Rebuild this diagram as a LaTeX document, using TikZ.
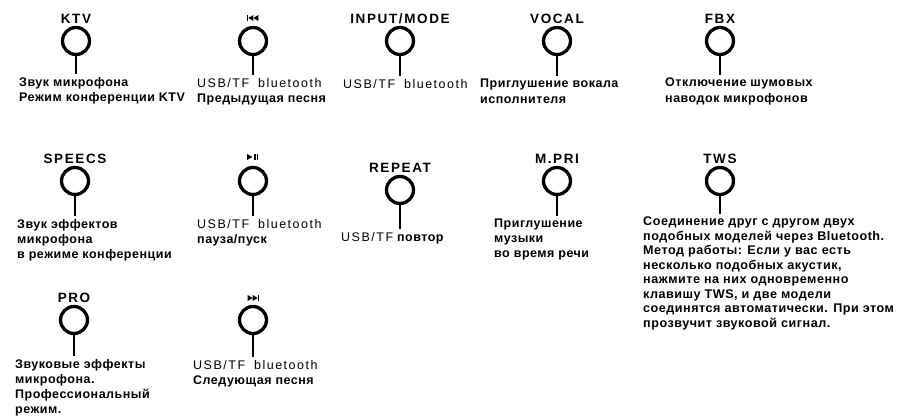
\documentclass[tikz,border=0pt]{standalone}
\usepackage{fontspec}
\setmainfont{Liberation Sans}
\newfontfamily\keyfont[LetterSpace=12]{Liberation Sans}
\newfontfamily\cyrfont[LetterSpace=4]{Liberation Sans}
\newfontfamily\usbfont[LetterSpace=12]{Liberation Sans}
\usetikzlibrary{positioning}

\newcommand\desctext{\cyrfont\bfseries\fontsize{12.5}{15.5}\selectfont}
\newcommand\usb[1]{{\usbfont\mdseries #1}}

\tikzset{
  knob/.style={draw, circle, line width=3.3pt, minimum size=27pt, inner sep=0pt},
  keyname/.style={inner sep=0pt, font=\keyfont\bfseries\fontsize{13.5}{13.5}\selectfont},
  descr/.style={anchor=north west, align=left, inner sep=0pt, font=\desctext},
  lead/.style={line width=1.1pt, shorten >=3pt},
  previcon/.pic={
    \fill (-6,-3) rectangle (-4.6,3);
    \fill (-4.6,0) -- (0.4,-3) -- (0.4,3) -- cycle;
    \fill (0.4,0) -- (5.4,-3) -- (5.4,3) -- cycle;
  },
  playicon/.pic={
    \fill (-6,-3) -- (-6,3) -- (-0.6,0) -- cycle;
    \fill (1.2,-3) rectangle (2.6,3);
    \fill (4,-3) rectangle (5.4,3);
  },
  nexticon/.pic={
    \fill (-5.4,-3) -- (-5.4,3) -- (-0.4,0) -- cycle;
    \fill (-0.4,-3) -- (-0.4,3) -- (4.6,0) -- cycle;
    \fill (4.6,-3) rectangle (6,3);
  },
}

\begin{document}
\begin{tikzpicture}[x=1pt, y=-1pt]
\useasboundingbox (0,0) rectangle (903,417);

% first row
\node[knob] (ktv) at (76,41) {};
\node[keyname, above=2pt of ktv] (ktvkey) {KTV};
\node[descr] (ktvtxt) at (19,77) {Звук микрофона\\Режим конференции KTV};

\node[knob] (prev) at (253,41) {};
\coordinate (prevkey) at (253,18);
\pic at (prevkey) {previcon};
\node[descr] (prevtxt) at (197,78) {\usb{USB/TF\hspace{4pt} bluetooth}\\Предыдущая песня};

\node[knob] (input) at (400,41) {};
\node[keyname, above=2pt of input] (inputkey) {INPUT/MODE};
\node[descr] (inputtxt) at (343,79) {\usb{USB/TF\hspace{4pt} bluetooth}};

\node[knob] (vocal) at (557,41) {};
\node[keyname, above=2pt of vocal] (vocalkey) {VOCAL};
\node[descr] (vocaltxt) at (480,79) {Приглушение вокала\\исполнителя};

\node[knob] (fbx) at (720,41) {};
\node[keyname, above=2pt of fbx] (fbxkey) {FBX};
\node[descr] (fbxtxt) at (665,78) {Отключение шумовых\\наводок микрофонов};

% second row
\node[knob] (speecs) at (75,181) {};
\node[keyname, above=2pt of speecs] (speecskey) {SPEECS};
\node[descr, font=\desctext\fontsize{12.5}{15}\selectfont] (speecstxt) at (17,219) {Звук эффектов\\микрофона\\в режиме конференции};

\node[knob] (play) at (253,181) {};
\coordinate (playkey) at (253,157);
\pic at (playkey) {playicon};
\node[descr] (playtxt) at (197,219) {\usb{USB/TF\hspace{4pt} bluetooth}\\пауза/пуск};

\node[knob] (repeat) at (400,190) {};
\node[keyname, above=2pt of repeat] (repeatkey) {REPEAT};
\node[descr] (repeattxt) at (341,232) {\usb{USB/TF} повтор};

\node[knob] (mpri) at (557,181) {};
\node[keyname, above=2pt of mpri] (mprikey) {M.PRI};
\node[descr, font=\desctext\fontsize{12.5}{15}\selectfont] (mpritxt) at (494,219) {Приглушение\\музыки\\во время речи};

\node[knob] (tws) at (720,181) {};
\node[keyname, above=2pt of tws] (twskey) {TWS};
\node[descr, font=\desctext\fontsize{12.6}{14.5}\selectfont] (twstxt) at (643,217)
  {Соединение друг с другом двух\\подобных моделей через Bluetooth.\\Метод работы: Если у вас есть\\несколько подобных акустик,\\нажмите на них одновременно\\клавишу TWS, и две модели\\соединятся автоматически. При этом\\прозвучит звуковой сигнал.};

% third row
\node[knob] (pro) at (74,320) {};
\node[keyname, above=2pt of pro] (prokey) {PRO};
\node[descr, font=\desctext\fontsize{12.5}{15}\selectfont] (protxt) at (15,359) {Звуковые эффекты\\микрофона.\\Профессиональный\\режим.};

\node[knob] (next) at (253,320) {};
\coordinate (nextkey) at (253,298);
\pic at (nextkey) {nexticon};
\node[descr] (nexttxt) at (193,360) {\usb{USB/TF\hspace{4pt} bluetooth}\\Следующая песня};

% leads from the keys
\foreach \k in {ktv,prev,input,vocal,fbx,speecs,play,repeat,mpri,tws,pro,next}
  \draw[lead] (\k.south) -- (\k.south |- \k txt.north);
\end{tikzpicture}
\end{document}
